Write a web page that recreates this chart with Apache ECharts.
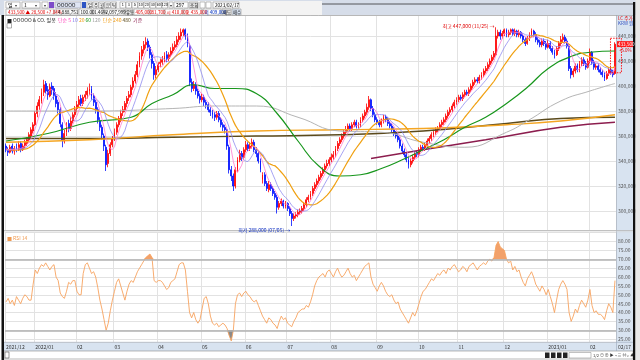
<!DOCTYPE html>
<html><head><meta charset="utf-8">
<script src="https://cdn.jsdelivr.net/npm/echarts/dist/echarts.min.js"></script>
<style>html,body{margin:0;padding:0;background:#fff;}#c{width:640px;height:360px;}</style>
</head><body><div id="c"></div>
<script>
// ---- data (prices in thousand KRW) ----
const opens = [
352,349,347,352,348,351,349,354,349,352, 354,357,360,364,369,378,384,388,395,402,
397,392,400,398,392,387,381,369,356,363, 370,366,372,377,382,385,390,386,391,393,
396,398,392,387,381,372,367,360,351,338, 346,353,359,363,369,374,379,381,386,391,
393,399,404,409,417,424,429,433,436,431, 425,418,409,413,418,419,421,425,422,425,
428,431,433,437,440,443,445,440,432,403, 398,401,396,392,389,391,387,385,381,379,
377,375,378,373,369,367,365,351,333,328, 320,333,341,346,343,349,353,350,352,355,
349,346,340,325,329,322,317,321,318,314, 311,303,306,308,304,306,302,298,294,296,
297,299,300,302,305,309,311,314,318,321, 324,327,330,333,336,338,341,343,345,350,
354,357,360,363,365,368,366,369,371,368, 369,373,376,379,383,389,382,377,373,371,
369,372,375,373,370,368,365,362,360,357, 352,348,345,341,337,340,343,346,345,349,
351,350,353,356,358,361,363,365,366,369, 371,373,376,379,381,384,387,389,391,390,
393,395,394,397,400,403,405,404,407,409, 412,414,417,420,423,425,440,443,440,442,
445,441,443,445,442,444,441,443,440,437, 434,438,441,444,441,437,435,433,436,434,
431,434,430,427,425,430,434,437,439,436, 432,414,409,412,416,413,418,421,418,415,
420,427,419,415,416,413,411,409,406,410, 413,411,410];
const closes = [
349,347,351,348,350,350,353,349,352,355, 357,361,365,369,378,384,389,395,401,396,
393,399,397,392,386,381,370,357,362,369, 366,372,377,381,385,389,386,391,393,396,
398,392,387,381,373,367,361,352,337,346, 353,358,363,369,374,378,381,386,390,393,
399,404,409,417,424,429,433,435,431,425, 418,409,413,417,419,421,424,422,425,428,
431,433,437,440,443,445,440,434,403,398, 401,396,392,389,391,387,385,381,379,377,
375,378,373,369,367,365,352,333,328,320, 333,341,346,343,349,353,350,352,355,349,
346,340,333,329,322,318,321,318,314,311, 303,306,308,304,306,302,298,294,296,297,
299,300,302,305,309,311,314,318,321,324, 327,330,333,336,338,341,343,345,350,354,
357,360,363,365,368,366,369,371,368,369, 373,376,379,383,389,382,377,373,371,369,
372,375,373,370,368,365,362,360,357,352, 348,345,341,337,340,343,346,345,349,351,
350,353,356,358,361,363,365,366,369,371, 373,376,379,381,384,387,389,391,390,393,
395,394,397,400,403,405,404,407,409,412, 414,417,420,423,426,440,443,440,442,445,
441,443,445,442,444,441,443,440,437,434, 438,441,444,441,437,435,433,436,434,431,
434,430,427,425,430,434,437,439,436,432, 414,409,412,416,413,418,421,418,415,420,
427,419,415,416,413,411,409,406,410,413, 411,409,433.5];
const lows = [
347,344,346,346,345,347,348,347,348,350, 352,355,358,362,368,375,381,386,392,394,
389,391,393,389,383,378,367,351,354,360, 363,364,370,375,379,383,384,384,388,390,
393,389,384,378,370,364,357,348,332,335, 344,351,356,361,367,371,376,379,383,388,
391,397,402,407,415,421,426,430,428,422, 414,405,406,411,415,417,419,419,420,423,
426,429,431,435,437,440,437,431,400,395, 396,393,390,386,387,384,382,379,376,374,
372,373,371,367,364,362,349,330,324,316, 318,331,339,340,341,347,348,348,350,347,
343,338,331,322,320,316,315,316,312,309, 298,301,304,302,302,300,296,288,292,294,
295,297,298,300,303,307,309,312,316,319, 322,325,328,331,334,336,339,341,343,348,
352,355,358,361,363,364,364,367,366,366, 367,371,374,377,381,380,375,371,369,367,
367,370,371,368,366,363,360,358,355,350, 346,343,339,334,335,338,341,343,343,347,
348,348,351,354,356,359,361,363,364,367, 369,371,374,377,379,382,385,387,388,388,
391,392,392,395,398,401,402,402,405,407, 410,412,415,418,421,424,438,437,438,440,
439,439,441,440,440,439,439,438,435,432, 433,436,439,439,435,433,431,431,432,429,
430,428,425,422,424,428,432,435,434,430, 412,406,407,410,411,411,416,416,413,414,
418,417,413,413,411,409,407,404,405,408, 409,407,409];
const highs = [
354,351,353,354,352,354,356,356,354,357, 359,363,367,371,380,387,392,398,405,404,
400,402,403,400,395,389,383,371,365,371, 373,375,379,384,388,392,393,393,396,399,
402,400,394,389,383,375,369,362,353,349, 355,360,366,371,376,381,384,388,392,396,
401,407,412,420,427,432,436,439,438,433, 427,420,416,419,422,424,427,428,427,431,
434,436,440,443,446,446,446,442,434,406, 404,403,398,394,394,393,389,387,383,381,
379,380,380,375,371,369,366,353,336,330, 335,343,349,348,351,356,355,355,358,357,
351,348,342,331,331,324,324,323,320,316, 313,308,310,309,308,307,304,300,298,299,
301,302,304,307,311,313,316,320,323,326, 329,332,335,338,341,343,346,348,352,356,
359,362,365,368,370,370,371,373,373,371, 375,378,381,386,392,390,384,379,375,373,
374,377,377,375,372,370,367,364,362,359, 354,350,347,343,342,345,348,348,351,353,
353,355,358,360,363,365,367,368,371,373, 375,378,381,383,386,389,391,393,393,395,
397,397,399,402,405,407,407,409,411,414, 416,419,422,425,428,447,445,445,444,446,
446,445,446,446,446,445,445,444,442,439, 440,443,446,445,443,439,437,438,438,436,
437,436,432,429,432,436,440,442,441,438, 434,416,414,418,418,420,423,423,420,422,
430,428,421,418,418,415,413,411,412,415, 415,413,435];
// closes before the first visible day (for the short averages)
const priorCloses = [356,354,353,351,352,349,347,346,348,350,346,344,347,349,351,352,350,348,350];
// long moving averages: [day index, value]
const ma60Points = [[0,356],[20,362],[40,371],[60,375],[70,386],[80,393],[90,401],[100,398],[110,398],[120,394],[130,378],[140,356],[150,336],[160,328],[170,329],[180,334],[190,341],[200,349],[210,357],[220,367],[230,375],[240,386],[250,399],[260,414],[270,423],[280,427],[292,428]];
const ma120Points = [[0,380],[40,380],[80,382],[100,384],[120,384],[140,375],[160,364],[180,363],[200,355],[220,351],[240,363],[250,372],[266,388],[280,396],[292,402]];
const ma240Points = [[0,355],[40,357],[80,361],[120,364],[160,365],[200,366],[240,369],[266,372],[292,377]];
const ma480Points = [[0,358],[40,358],[80,359],[120,360],[160,361],[200,364],[240,370],[266,374],[292,375]];
const baseLinePoints = [[175,342],[200,349],[230,357],[266,367],[292,371]];
const rsi14 = [
46,48,45,47,44,49,47,45,48,50, 49,47,47,56,64,62,65,67,66,68,
66,64,66,67,60,58,51,49,48,52, 57,56,58,58,52,50,50,62,67,68,
65,62,63,60,54,47,42,36,30,34, 41,47,52,57,59,55,51,47,52,56,
58,57,60,63,65,67,69,71,72,73, 71,58,57,58,58,57,55,53,54,57,
58,59,63,67,68,68,64,52,40,37, 40,36,34,36,42,48,49,45,38,34,
33,34,32,33,34,33,31,27,24,30, 45,50,51,49,51,52,50,49,47,46,
47,44,41,38,36,34,37,36,34,33, 31,35,38,36,37,34,33,32,35,37,
40,41,42,42,44,43,46,50,55,58, 60,61,62,60,63,64,62,60,63,65,
62,60,61,63,65,62,60,61,58,60, 62,64,66,67,68,60,56,54,52,55,
57,55,52,50,49,50,47,45,46,42, 40,38,36,34,37,40,38,41,45,49,
52,53,55,57,59,58,60,62,61,63, 64,62,65,64,66,67,65,63,64,66,
65,63,66,67,68,66,64,66,67,68, 67,69,70,69,71,78,80,77,76,75,
70,68,69,64,66,63,64,60,57,55, 59,61,63,60,56,54,52,55,53,50,
53,49,45,40,47,53,56,58,56,53, 40,35,38,42,40,44,47,45,43,47,
53,44,40,41,39,39,38,36,41,45, 43,40,58];
const holidays = ['2021-12-31','2022-01-31','2022-02-01','2022-02-02','2022-03-01','2022-03-09','2022-05-05','2022-06-01','2022-06-06','2022-08-15','2022-09-09','2022-09-12','2022-10-03','2022-10-10','2022-12-30','2023-01-23','2023-01-24'];

// ---- trading-day categories ----
const hol = new Set(holidays);
const dates = [];
for (let d = new Date(Date.UTC(2021,11,13)); d.getTime() <= Date.UTC(2023,1,17); d.setUTCDate(d.getUTCDate()+1)) {
  const wd = d.getUTCDay(); if (wd === 0 || wd === 6) continue;
  const s = d.toISOString().slice(0,10); if (hol.has(s)) continue;
  dates.push(s);
}
const N = dates.length;
if (N !== closes.length) console.error('length mismatch', N, closes.length);
const monthStart = new Set();
dates.forEach((s,i)=>{ if (i===0 || s.slice(0,7)!==dates[i-1].slice(0,7)) monthStart.add(i); });

function sma(n){
  const all = priorCloses.concat(closes), off = priorCloses.length;
  return closes.map((_,i)=>{ const j=i+off; if (j<n-1) return null; let s=0; for(let k=j-n+1;k<=j;k++) s+=all[k]; return +(s/n).toFixed(2); });
}
function sparse(pts){ const a = new Array(N).fill(null); pts.forEach(p=>a[p[0]]=p[1]); return a; }

const FONT = '"Noto Sans CJK KR","Noto Sans",sans-serif';
const fmt = v => Math.round(v*1000).toLocaleString('en-US');
const chart = echarts.init(document.getElementById('c'), null, {renderer:'canvas'});

const lineS = (name, data, color, width, extra) => Object.assign({
  name, type:'line', xAxisIndex:0, yAxisIndex:0, data, symbol:'none', showSymbol:false,
  lineStyle:{color, width}, itemStyle:{color}, z:3, silent:true, connectNulls:true
}, extra||{});

const splitL = {show:true, interval:(i)=>monthStart.has(i), lineStyle:{color:'#e2e2e2', width:1}};
const option = {
  animation:false,
  backgroundColor:'#ffffff',
  grid:[{left:5,right:24,top:15,height:215},{left:5,right:24,top:232,height:110}],
  xAxis:[
    {type:'category', gridIndex:0, data:dates, boundaryGap:true, axisLine:{show:false}, axisTick:{show:false}, axisLabel:{show:false}, splitLine:splitL},
    {type:'category', gridIndex:1, data:dates, boundaryGap:true, axisLine:{show:false}, axisTick:{show:false}, splitLine:splitL,
     axisLabel:{show:true, interval:(i)=>monthStart.has(i), fontSize:5, color:'#333', align:'left', margin:3, fontFamily:FONT,
       formatter:(v,i)=>{ const y=v.slice(0,4), m=v.slice(5,7); return (i===0||m==='01') ? y+'/'+m : m; }}}
  ],
  yAxis:[
    {type:'value', gridIndex:0, position:'right', min:284.8, max:456.8, splitNumber:8, axisLine:{show:false}, axisTick:{show:false},
     axisLabel:{fontSize:5, color:'#555', margin:2, fontFamily:FONT, showMinLabel:false, showMaxLabel:false, formatter:fmt},
     splitLine:{lineStyle:{color:'#e2e2e2'}}},
    {type:'value', gridIndex:1, position:'right', min:23.4, max:85.4, splitNumber:12, axisLine:{show:false}, axisTick:{show:false},
     axisLabel:{fontSize:5, color:'#555', margin:2, fontFamily:FONT, showMinLabel:false, showMaxLabel:false, formatter:v=> (v>84||v<24)?'':v.toFixed(2)},
     splitLine:{lineStyle:{color:'#e2e2e2'}}}
  ],
  series:[
    {name:'일봉', type:'candlestick', xAxisIndex:0, yAxisIndex:0, barWidth:1.4,
     data: opens.map((o,i)=>[o, closes[i], lows[i], highs[i]]),
     itemStyle:{color:'#ff0000', color0:'#0010ff', borderColor:'#ff0000', borderColor0:'#0010ff', borderWidth:0.8}, z:2, silent:true},
    lineS('480', sparse(ma480Points), '#5b4a1c', 1.5, {smooth:true}),
    lineS('240', sparse(ma240Points), '#f5a623', 1.3, {smooth:true}),
    lineS('기준', sparse(baseLinePoints), '#8c1d4e', 1.5, {smooth:true}),
    lineS('120', sparse(ma120Points), '#b5b5b5', 1, {smooth:true}),
    lineS('60', sparse(ma60Points), '#17961c', 1.2, {smooth:true}),
    lineS('20', sma(20), '#f0a010', 1.2),
    lineS('10', sma(10), '#8f8cf0', 0.8),
    lineS('5', sma(5), '#ff7ccf', 0.8),
    {name:'ovBase', type:'line', xAxisIndex:1, yAxisIndex:1, stack:'ov', data:rsi14.map(()=>70), symbol:'none', lineStyle:{width:0, opacity:0}, silent:true},
    {name:'ovTop', type:'line', xAxisIndex:1, yAxisIndex:1, stack:'ov', data:rsi14.map(v=>Math.max(0,v-70)), symbol:'none', lineStyle:{width:0, opacity:0}, areaStyle:{color:'#f2a16a', opacity:1}, silent:true},
    {name:'unBase', type:'line', xAxisIndex:1, yAxisIndex:1, stack:'un', data:rsi14.map(v=>Math.min(v,30)), symbol:'none', lineStyle:{width:0, opacity:0}, silent:true},
    {name:'unTop', type:'line', xAxisIndex:1, yAxisIndex:1, stack:'un', data:rsi14.map(v=>30-Math.min(v,30)), symbol:'none', lineStyle:{width:0, opacity:0}, areaStyle:{color:'#8a8a8a', opacity:1}, silent:true},
    {name:'RSI 14', type:'line', xAxisIndex:1, yAxisIndex:1, data:rsi14, symbol:'none', lineStyle:{color:'#f7a35f', width:0.9}, z:4, silent:true,
     markLine:{silent:true, symbol:['none','none'], label:{show:false}, lineStyle:{color:'#b2b2b2', width:1.6, type:'solid'}, data:[{yAxis:70},{yAxis:30}]}}
  ]
};
chart.setOption(option);

// ---- frame, header, annotations ----
const G = [];
const R = (x,y,w,h,fill,stroke,z) => G.push({type:'rect', shape:{x,y,width:w,height:h}, style:{fill:fill||'none', stroke:stroke||null, lineWidth:stroke?0.6:0}, z:(z===undefined?1:z), silent:true});
const L = (x1,y1,x2,y2,color,w,dash) => G.push({type:'line', shape:{x1,y1,x2,y2}, style:{stroke:color, lineWidth:w||1, lineDash:dash||null}, z:6, silent:true});
const T = (x,y,text,color,size,align,extra) => G.push({type:'text', x, y, style:Object.assign({text, fill:color||'#000', font:(size||5)+'px '+FONT, align:align||'left', verticalAlign:'middle', textAlign:align||'left', textVerticalAlign:'middle'}, extra||{}), z:7, silent:true});

// header
R(0,0,640,15,'#d6dde9',null,0);
R(4,1,318,14,'#f3f3f3',null,0);
L(322,4,635,4,'#333',0.8);
R(6,2,14,6,'#fff','#999'); T(8,5,'일'); T(15,5,'▾','#333',4);
R(22,2,18,6,'#fff','#999'); T(24,5,'1'); T(35,5,'▾','#333',4);
R(42,2,6,6,'#fff','#999'); T(43.5,5,'▾','#333',4);
R(49,2,5,6,'#7d4cc9');
R(55,2,26,6,'#dfe5f4','#99a'); T(57,5,'OOOOO');
R(82,2,4,6,'#2e55c4');
['일','주','월','분','틱'].forEach((t,k)=>{R(87+k*6,2,5.5,6,'#fff','#999'); T(88+k*6,5,t,'#000',4.5);});
['1','3','5','10','20','30','60','120'].forEach((t,k)=>{R(120+k*6,2,5.5,6,'#fff','#999'); T(122.75+k*6,5,t,'#000',3.8,'center');});
R(169,2,4,6,'#fff','#999'); T(169.5,5,'▾','#333',4);
R(174,2,14,6,'#fff','#999'); T(176,5,'297');
R(189,2,9,6,'#e4e4e4','#999'); T(190,5,'조회','#000',4.5);
R(200,2,5,6,'#fff','#999'); R(206,2,5,6,'#fff','#999');
R(213,2,26,6,'#fff','#999'); T(215,5,'2023/02/17','#000',4.6);
R(6,9,48,6,'#fff','#999'); T(8,12,'433,500 ▲ 28,500 +7.04%','#e00000',4.6);
R(56,9,22,6,'#fff','#999'); T(58,12,'4,888,751','#000',4.6);
R(79,9,13,6,'#fff','#999'); T(80.5,12,'100.00','#000',4.6);
R(93,9,10,6,'#fff','#999'); T(94,12,'1.46%','#000',4.6);
R(104,9,20,6,'#fff','#999'); T(105.5,12,'2,097,999','#000',4.6);
R(125,9,8,6,'#e8e8e8','#999'); T(126,12,'유동','#000',4.4);
R(134,9,15,6,'#fff','#999'); T(135.5,12,'405,000','#e00000',4.6);
R(150,9,14,6,'#fff','#999'); T(151.5,12,'81,700','#e00000',4.6);
R(165,9,18,6,'#fff','#999'); T(166.5,12,'시 410,000','#e00000',4.6);
R(184,9,18,6,'#fff','#999'); T(185.5,12,'고 435,000','#e00000',4.6);
R(203,9,18,6,'#fff','#999'); T(204.5,12,'저 409,000','#0030c0',4.6);
R(222,9,9,6,'#e8e8e8','#999'); T(223,12,'매도','#000',4.4);
R(232,9,9,6,'#dce7f7','#999'); T(233,12,'매수','#000',4.4);

// frame / strips
R(616,15,17,327,'#d8e3f0',null,-1);
R(4,342,629,9,'#d8e3f0',null,-1);
L(616.5,15,616.5,351,'#9aa8bb',0.6);
L(4,15.5,633,15.5,'#9a9a9a',0.6);
L(4,230.5,633,230.5,'#b8b8b8',0.8);
L(4,231.8,633,231.8,'#d4d4d4',0.6);
L(4,342.3,633,342.3,'#9aa8bb',0.6);
R(4,351,629,8,'#ffffff','#8a8a8a',1);
R(5,352,4,6,'#fff','#555',2);
[545,551,557,563].forEach(x=>{R(x,352.5,4.5,5.5,'#222',null,2);});
R(569,352.5,22,5.5,'#fff','#999',2);
T(593,355.3,'1/2 ⊖ ⊕ ▶ ⌁ ≡ ⇔ ⌕ ▲','#333',4);
R(1.5,15,2.5,345,'#111',null,8);
R(633,2,2.5,358,'#111',null,8);
R(635.5,0,4.5,360,'#e8e8e8',null,8);
T(618,347,'02/17','#333',5);

// legend rows
G.push({type:'text', x:7, y:20.5, z:7, silent:true, style:{text:'{k|■ OOOOO & CO. 일봉}  {p|단순 5} {b|10} {o|20} {g|60} {s|120}  {o|단순 240} {w|480}  {m|기준}', font:'5px '+FONT, verticalAlign:'middle', textVerticalAlign:'middle',
  rich:{k:{fill:'#222',font:'5px '+FONT},p:{fill:'#ff44bb',font:'5px '+FONT},b:{fill:'#7a76e8',font:'5px '+FONT},o:{fill:'#f09a10',font:'5px '+FONT},g:{fill:'#17961c',font:'5px '+FONT},s:{fill:'#999',font:'5px '+FONT},w:{fill:'#5b4a1c',font:'5px '+FONT},m:{fill:'#8c1d4e',font:'5px '+FONT}}}});
R(7,23.5,4.5,4.5,'#fff','#777',7);
T(7,238,'■ RSI 14','#f09a50',5);
T(618,18.5,'LC 주가','#e00000',4.6);
T(618,23,'KRW 원','#3050c0',4.6);

// annotations from the data
let hi=0, lo=0;
highs.forEach((v,i)=>{ if (v>highs[hi]) hi=i; });
lows.forEach((v,i)=>{ if (v<lows[lo]) lo=i; });
const md = s => s.slice(5,7)+'/'+s.slice(8,10);
const pHi = chart.convertToPixel({xAxisIndex:0, yAxisIndex:0}, [dates[hi], highs[hi]]);
const pLo = chart.convertToPixel({xAxisIndex:0, yAxisIndex:0}, [dates[lo], lows[lo]]);
T(pHi[0]-1.5, pHi[1]-1, '최고 '+fmt(highs[hi])+' ('+md(dates[hi])+') →', '#e00000', 5, 'right');
T(pLo[0]-1.5, pLo[1]+4.5, '최저 '+fmt(lows[lo])+' ('+md(dates[lo])+') →', '#1030c0', 5, 'right');
const last = N-1;
const pC = chart.convertToPixel({xAxisIndex:0, yAxisIndex:0}, [dates[last], closes[last]]);
const pH = chart.convertToPixel({xAxisIndex:0, yAxisIndex:0}, [dates[last], highs[last]]);
const pL = chart.convertToPixel({xAxisIndex:0, yAxisIndex:0}, [dates[last], lows[last]]);
G.push({type:'rect', shape:{x:pH[0]-4.5, y:pH[1]-4, width:11, height:(pL[1]-pH[1])+2}, style:{fill:'none', stroke:'#ff0000', lineWidth:0.9, lineDash:[1.5,1.2]}, z:9, silent:true});
R(617,pC[1]-3,16,6,'#ff1a1a',null,9);
T(618,pC[1],fmt(closes[last]),'#ffffff',4.6,'left');
G[G.length-1].z=10;
T(619,pC[1]+6,'+5.0%','#e00000',4.4);
chart.setOption({graphic:G});
</script>
</body></html>
